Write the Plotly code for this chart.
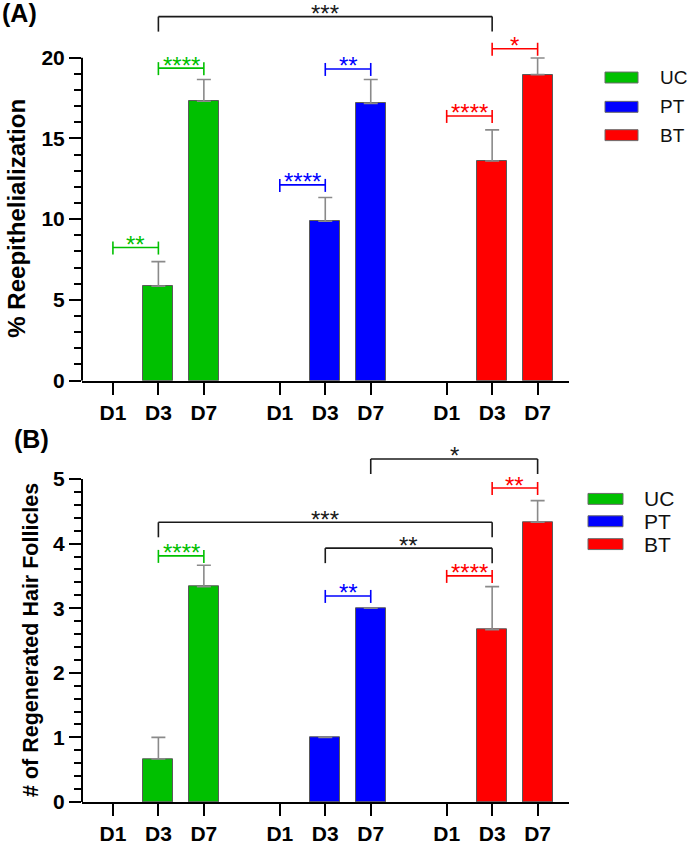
import plotly.graph_objects as go

# ---------------- data ----------------
groups = ["UC", "PT", "BT"]
days = ["D1", "D3", "D7"]

reepi_UC = [0, 5.85, 17.3]
reepi_PT = [0, 9.87, 17.17]
reepi_BT = [0, 13.6, 18.95]
reepi_err_UC = [0, 1.52, 1.35]
reepi_err_PT = [0, 1.47, 1.48]
reepi_err_BT = [0, 1.93, 1.03]

hair_UC = [0, 0.667, 3.333]
hair_PT = [0, 1.0, 3.0]
hair_BT = [0, 2.667, 4.333]
hair_err_UC = [0, 0.333, 0.333]
hair_err_PT = [0, 0, 0]
hair_err_BT = [0, 0.667, 0.333]

# significance comparisons: (left bar index, right bar index, level, label, group colour key)
sig_A = [
    (1, 7, 22.54, "***", "k"),
    (0, 1, 8.24, "**", "UC"),
    (1, 2, 19.35, "****", "UC"),
    (3, 4, 12.12, "****", "PT"),
    (4, 5, 19.30, "**", "PT"),
    (6, 7, 16.39, "****", "BT"),
    (7, 8, 20.55, "*", "BT"),
]
sig_B = [
    (5, 8, 5.31, "*", "k"),
    (1, 7, 4.33, "***", "k"),
    (4, 7, 3.93, "**", "k"),
    (1, 2, 3.81, "****", "UC"),
    (4, 5, 3.19, "**", "PT"),
    (6, 7, 3.50, "****", "BT"),
    (7, 8, 4.86, "**", "BT"),
]

# ---------------- style ----------------
colors = {"UC": "#00C000", "PT": "#0000FF", "BT": "#FF0000", "k": "#1a1a1a"}
FONT = "Arial, Liberation Sans, sans-serif"
W, H = 688, 845
ML, MR, MT, MB = 82, 119, 0, 38
PW, PH = W - ML - MR, H - MT - MB
GROUP_STEP = 3.67
XR = [-0.68, 10.03]


def xpos(g, d):
    return g * GROUP_STEP + d


all_x = [xpos(g, d) for g in range(3) for d in range(3)]


def px_x(px):
    return (px - ML) / PW


def px_y(py):
    return (PH - (py - MT)) / PH


# panel geometry (paper domains) and y ranges
domA = [px_y(383), px_y(0)]
rangeA = [0, 383 / 16.25]
domB = [px_y(807), px_y(440)]
rangeB = [0, (807 - 440) / 65.0]

fig = go.Figure()

panelA = [(reepi_UC, reepi_err_UC), (reepi_PT, reepi_err_PT), (reepi_BT, reepi_err_BT)]
panelB = [(hair_UC, hair_err_UC), (hair_PT, hair_err_PT), (hair_BT, hair_err_BT)]

for panel, (xa, ya) in ((panelA, ("x", "y")), (panelB, ("x2", "y2"))):
    for g, (vals, errs) in enumerate(panel):
        fig.add_trace(go.Bar(
            x=[xpos(g, d) for d in range(3)],
            y=[v if v else None for v in vals],
            width=0.66,
            marker=dict(color=colors[groups[g]], line=dict(color="#5a5a5a", width=1)),
            error_y=dict(type="data", symmetric=False,
                         array=[e if (v and e) else None for v, e in zip(vals, errs)],
                         arrayminus=[0 if (v and e) else None for v, e in zip(vals, errs)],
                         color="#8a8a8a", thickness=1.6, width=7),
            xaxis=xa, yaxis=ya, showlegend=False, name=groups[g],
        ))

common_x = dict(
    range=XR, tickmode="array", tickvals=all_x, ticktext=days * 3,
    showline=True, linecolor="black", linewidth=2, ticks="outside",
    ticklen=12, tickwidth=2, tickcolor="black", showgrid=False, zeroline=False,
    tickfont=dict(family=FONT, size=21, color="black", weight="bold"),
)
fig.update_layout(
    xaxis=dict(common_x, anchor="y", domain=[0, 1]),
    xaxis2=dict(common_x, anchor="y2", domain=[0, 1]),
    yaxis=dict(
        domain=domA, range=rangeA, anchor="x", tickmode="array",
        tickvals=[0, 5, 10, 15, 20], ticks="outside", ticklen=12, tickwidth=2,
        tickcolor="black", showline=False, showgrid=False, zeroline=False,
        tickfont=dict(family=FONT, size=21, color="black", weight="bold"),
        minor=dict(tickmode="array", tickvals=[v for v in range(1, 20) if v % 5],
                   ticks="outside", ticklen=7, tickwidth=2, tickcolor="black"),
    ),
    yaxis2=dict(
        domain=domB, range=rangeB, anchor="x2", tickmode="array",
        tickvals=[0, 1, 2, 3, 4, 5], ticks="outside", ticklen=12, tickwidth=2,
        tickcolor="black", showline=False, showgrid=False, zeroline=False,
        tickfont=dict(family=FONT, size=21, color="black", weight="bold"),
        minor=dict(tickmode="array",
                   tickvals=[round(i * 0.2, 1) for i in range(1, 25) if i % 5],
                   ticks="outside", ticklen=7, tickwidth=2, tickcolor="black"),
    ),
    width=W, height=H, margin=dict(l=ML, r=MR, t=MT, b=MB),
    paper_bgcolor="white", plot_bgcolor="white", bargap=0,
    font=dict(family=FONT, color="black"),
)

shapes = []
annotations = []

# y axis lines (stop at the top tick)
for yref, top in (("y", 20), ("y2", 5)):
    shapes.append(dict(type="line", xref="paper", yref=yref, x0=0, x1=0, y0=0, y1=top,
                       line=dict(color="black", width=2)))

# significance brackets
for sig, xr, yr in ((sig_A, "x", "y"), (sig_B, "x2", "y2")):
    for i0, i1, lev, lab, ck in sig:
        c = colors[ck]
        xa0, xa1 = all_x[i0], all_x[i1]
        shapes.append(dict(type="line", xref=xr, yref=yr, x0=xa0, x1=xa1, y0=lev, y1=lev,
                           line=dict(color=c, width=1.6)))
        for xe in (xa0, xa1):
            if ck == "k":
                y0, y1 = 0, -15
            else:
                y0, y1 = 6, -7
            shapes.append(dict(type="line", xref=xr, yref=yr, ysizemode="pixel",
                               yanchor=lev, x0=xe, x1=xe, y0=y0, y1=y1,
                               line=dict(color=c, width=1.6)))
        annotations.append(dict(
            x=(xa0 + xa1) / 2, y=lev, xref=xr, yref=yr, text=lab, showarrow=False,
            yanchor="middle", xanchor="center", yshift=3,
            font=dict(family=FONT, size=24, color=c),
        ))

# legends (manual, two panels)
for (sx0, sx1, tx, rows, fs) in (
    (605, 638, 658, [78, 107.5, 136], 19),
    (588, 623, 642, [502, 524.5, 547.5], 21),
):
    for g, cy in zip(groups, rows):
        shapes.append(dict(type="rect", xref="paper", yref="paper",
                           x0=px_x(sx0), x1=px_x(sx1), y0=px_y(cy + 5.5), y1=px_y(cy - 5.5),
                           fillcolor=colors[g], line=dict(color="#6a6a6a", width=1)))
        annotations.append(dict(x=px_x(tx), y=px_y(cy), xref="paper", yref="paper",
                                text=g, showarrow=False, xanchor="left", yanchor="middle",
                                font=dict(family=FONT, size=fs, color="#111")))

# panel labels
annotations.append(dict(x=px_x(0), y=px_y(13), xref="paper", yref="paper", text="<b>(A)</b>",
                        showarrow=False, xanchor="left", yanchor="middle",
                        font=dict(family=FONT, size=25, color="black")))
annotations.append(dict(x=px_x(12), y=px_y(442), xref="paper", yref="paper", text="<b>(B)</b>",
                        showarrow=False, xanchor="left", yanchor="middle",
                        font=dict(family=FONT, size=25, color="black")))

# y axis titles
annotations.append(dict(x=px_x(17), y=px_y(220), xref="paper", yref="paper",
                        text="<b>% Reepithelialization</b>", textangle=-90, showarrow=False,
                        xanchor="center", yanchor="middle",
                        font=dict(family=FONT, size=24, color="black")))
annotations.append(dict(x=px_x(31), y=px_y(644), xref="paper", yref="paper",
                        text="<b># of Regenerated Hair Follicles</b>", textangle=-90,
                        showarrow=False, xanchor="center", yanchor="middle",
                        font=dict(family=FONT, size=21.5, color="black")))

fig.update_layout(shapes=shapes, annotations=annotations)
fig.write_html("out.html", config={"displayModeBar": False},
               post_script="document.body.style.margin='0px';")
